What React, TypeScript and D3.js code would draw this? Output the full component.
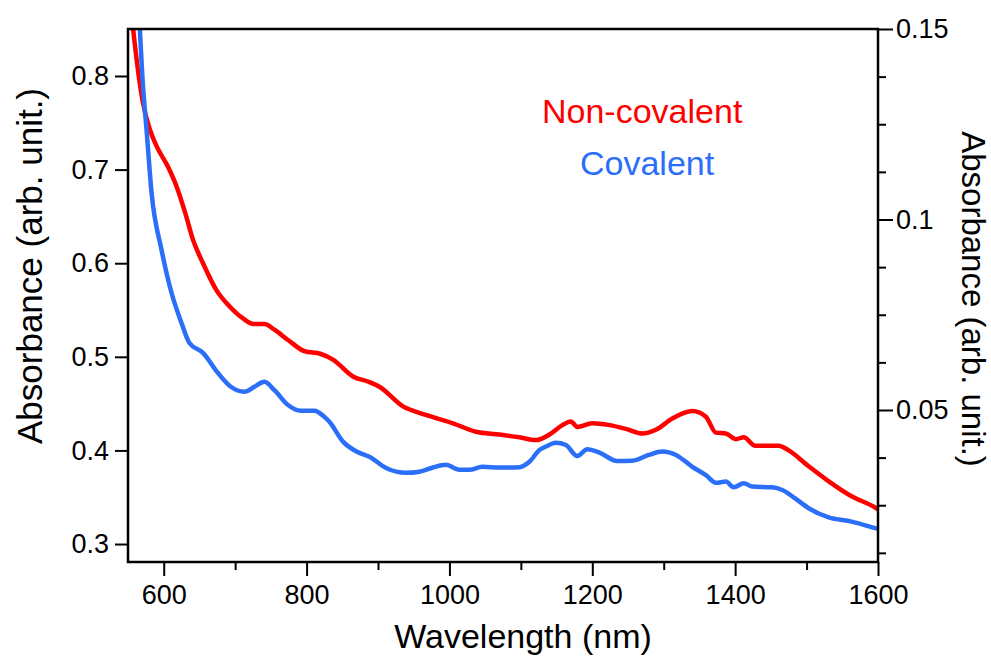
import React, { useRef, useEffect } from "react";
import * as d3 from "d3";

// Non-covalent (red, left axis)
const nonCovWavelength = [553, 564, 571, 581, 590, 606, 618, 630, 641, 655, 674, 692, 711, 726, 741, 755, 774, 797, 820, 837, 865, 888, 902, 935, 967, 1005, 1037, 1070, 1098, 1121, 1140, 1158, 1170, 1179, 1200, 1224, 1247, 1270, 1289, 1312, 1340, 1359, 1373, 1387, 1401, 1412, 1428, 1461, 1475, 1503, 1531, 1563, 1596, 1600];
const nonCovAbs = [0.88, 0.806, 0.771, 0.742, 0.725, 0.703, 0.682, 0.654, 0.625, 0.6, 0.571, 0.554, 0.541, 0.535, 0.535, 0.529, 0.518, 0.506, 0.503, 0.497, 0.479, 0.473, 0.468, 0.447, 0.438, 0.429, 0.42, 0.417, 0.414, 0.411, 0.417, 0.427, 0.431, 0.425, 0.429, 0.427, 0.423, 0.418, 0.422, 0.434, 0.442, 0.436, 0.419, 0.418, 0.412, 0.414, 0.405, 0.405, 0.4, 0.383, 0.367, 0.351, 0.339, 0.337];

// Covalent (blue, right axis)
const covWavelength = [564, 571, 576, 583, 597, 611, 625, 636, 655, 676, 694, 713, 727, 741, 755, 774, 792, 811, 825, 832, 851, 870, 888, 912, 939, 958, 977, 995, 1014, 1028, 1046, 1070, 1098, 1112, 1126, 1135, 1149, 1163, 1179, 1193, 1210, 1235, 1256, 1279, 1298, 1317, 1340, 1359, 1373, 1387, 1398, 1412, 1424, 1452, 1466, 1484, 1503, 1531, 1563, 1596, 1600];
const covAbs = [0.16, 0.135, 0.1235, 0.107, 0.092, 0.0807, 0.0728, 0.0676, 0.065, 0.0597, 0.0561, 0.0548, 0.0561, 0.0574, 0.0552, 0.0513, 0.0498, 0.0498, 0.0482, 0.0469, 0.0417, 0.0391, 0.0377, 0.0347, 0.0335, 0.0338, 0.0349, 0.0356, 0.0343, 0.0343, 0.0351, 0.0349, 0.035, 0.0364, 0.0395, 0.0404, 0.0414, 0.0408, 0.0379, 0.0397, 0.0388, 0.0366, 0.0367, 0.0382, 0.0391, 0.0382, 0.0351, 0.0329, 0.0309, 0.0312, 0.0297, 0.0308, 0.0299, 0.0297, 0.029, 0.0268, 0.0242, 0.0218, 0.0207, 0.019, 0.0188];

const xMajorTicks = [600, 800, 1000, 1200, 1400, 1600];
const xMinorTicks = [700, 900, 1100, 1300, 1500];
const leftTicks = [0.3, 0.4, 0.5, 0.6, 0.7, 0.8];
const rightMajorTicks = [0.05, 0.1, 0.15];
const rightMinorTicks = [0.0125, 0.025, 0.0375, 0.0625, 0.075, 0.0875, 0.1125, 0.125, 0.1375];

const RED = "#ff0000";
const BLUE = "#2b6ef8";
const FONT = "'Liberation Sans', Arial, sans-serif";

const App = () => {
  const svgRef = useRef<SVGSVGElement>(null);

  useEffect(() => {
    const W = 991;
    const H = 656;
    const left = 128, right = 878, top = 29, bottom = 562;

    const svg = d3.select(svgRef.current).attr("width", W).attr("height", H);
    svg.selectAll("*").remove();

    const x = d3.scaleLinear().domain([550, 1600]).range([left, right]);
    const yL = d3.scaleLinear().domain([0.2808, 0.8502]).range([bottom, top]);
    const yR = d3.scaleLinear().domain([0.0101, 0.15]).range([bottom, top]);

    svg
      .append("defs")
      .append("clipPath")
      .attr("id", "plot-clip")
      .append("rect")
      .attr("x", left)
      .attr("y", top)
      .attr("width", right - left)
      .attr("height", bottom - top);

    const styleAxis = (g) => {
      g.select(".domain").remove();
      g.selectAll("line").attr("stroke", "#000").attr("stroke-width", 2);
      g.selectAll("text")
        .attr("fill", "#000")
        .style("font-family", FONT)
        .style("font-size", "27px");
    };

    // bottom axis
    svg
      .append("g")
      .attr("transform", `translate(0,${bottom})`)
      .call(d3.axisBottom(x).tickValues(xMinorTicks).tickSize(8).tickSizeOuter(0).tickFormat(() => ""))
      .call(styleAxis);
    svg
      .append("g")
      .attr("transform", `translate(0,${bottom})`)
      .call(d3.axisBottom(x).tickValues(xMajorTicks).tickSize(14).tickSizeOuter(0).tickPadding(9).tickFormat(d3.format("d")))
      .call(styleAxis);

    // left axis
    svg
      .append("g")
      .attr("transform", `translate(${left},0)`)
      .call(d3.axisLeft(yL).tickValues(leftTicks).tickSize(13).tickSizeOuter(0).tickPadding(6).tickFormat(d3.format(".1f")))
      .call(styleAxis);

    // right axis
    svg
      .append("g")
      .attr("transform", `translate(${right},0)`)
      .call(d3.axisRight(yR).tickValues(rightMinorTicks).tickSize(8).tickSizeOuter(0).tickFormat(() => ""))
      .call(styleAxis);
    svg
      .append("g")
      .attr("transform", `translate(${right},0)`)
      .call(d3.axisRight(yR).tickValues(rightMajorTicks).tickSize(15).tickSizeOuter(0).tickPadding(3).tickFormat((d) => String(d)))
      .call(styleAxis);

    // curves
    const nonCov = nonCovWavelength.map((w, i) => [w, nonCovAbs[i]]);
    const cov = covWavelength.map((w, i) => [w, covAbs[i]]);

    const lineL = d3.line().x((d) => x(d[0])).y((d) => yL(d[1])).curve(d3.curveMonotoneX);
    const lineR = d3.line().x((d) => x(d[0])).y((d) => yR(d[1])).curve(d3.curveMonotoneX);

    const plot = svg.append("g").attr("clip-path", "url(#plot-clip)");
    plot
      .append("path")
      .attr("d", lineL(nonCov))
      .attr("fill", "none")
      .attr("stroke", RED)
      .attr("stroke-width", 4.5)
      .attr("stroke-linejoin", "round");
    plot
      .append("path")
      .attr("d", lineR(cov))
      .attr("fill", "none")
      .attr("stroke", BLUE)
      .attr("stroke-width", 4.5)
      .attr("stroke-linejoin", "round");

    // frame
    svg
      .append("rect")
      .attr("x", left)
      .attr("y", top)
      .attr("width", right - left)
      .attr("height", bottom - top)
      .attr("fill", "none")
      .attr("stroke", "#000")
      .attr("stroke-width", 2.5);

    // legend labels
    svg
      .append("text")
      .attr("x", 542)
      .attr("y", 123)
      .attr("fill", RED)
      .style("font-family", FONT)
      .style("font-size", "34px")
      .text("Non-covalent");
    svg
      .append("text")
      .attr("x", 580)
      .attr("y", 175)
      .attr("fill", BLUE)
      .style("font-family", FONT)
      .style("font-size", "34px")
      .text("Covalent");

    // axis titles
    svg
      .append("text")
      .attr("x", 523)
      .attr("y", 648)
      .attr("text-anchor", "middle")
      .style("font-family", FONT)
      .style("font-size", "34px")
      .text("Wavelength (nm)");
    svg
      .append("text")
      .attr("transform", "translate(42,266) rotate(-90)")
      .attr("text-anchor", "middle")
      .style("font-family", FONT)
      .style("font-size", "35px")
      .text("Absorbance (arb. unit.)");
    svg
      .append("text")
      .attr("transform", "translate(962,299) rotate(90)")
      .attr("text-anchor", "middle")
      .style("font-family", FONT)
      .style("font-size", "33px")
      .text("Absorbance (arb. unit.)");
  }, []);

  return (
    <svg
      ref={svgRef}
      style={{ position: "absolute", left: 0, top: 0, display: "block", background: "#fff" }}
    ></svg>
  );
};

export default App;
